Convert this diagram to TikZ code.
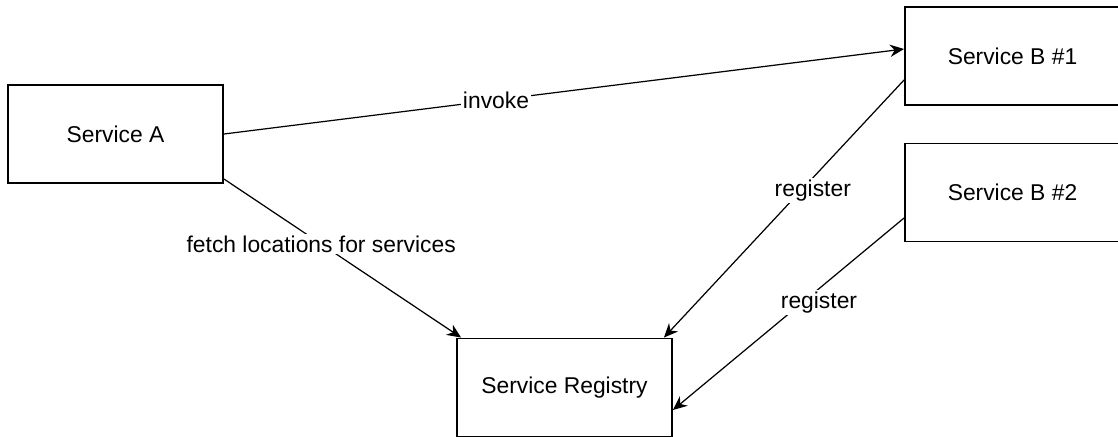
\documentclass[tikz,border=0pt]{standalone}
\usepackage{fontspec}
\setmainfont{Liberation Sans}
\usetikzlibrary{arrows.meta}
\tikzset{
  svc/.style={draw,line width=1.1pt,minimum width=4.3cm,minimum height=1.96cm,inner sep=0pt,font=\fontsize{13}{15}\selectfont},
  link/.style={line width=0.7pt,-{Stealth[length=8pt,width=7pt]}},
  lbl/.style={fill=white,inner sep=1pt,font=\fontsize{13}{15}\selectfont}
}
\begin{document}
\begin{tikzpicture}[x=0.02cm,y=-0.02cm]
  \useasboundingbox (0,0) rectangle (1118,436);
  % services
  \node[svc] (svcA) at (115.5,134) {Service A};
  \node[svc] (svcB1) at (1012.5,56) {Service B \#1};
  \node[svc] (svcB2) at (1012.5,192.5) {Service B \#2};
  \node[svc] (registry) at (564.5,387.5) {Service Registry};
  % calls
  \draw[link] (svcA.east) -- node[lbl,pos=0.4] {invoke} ([yshift=0.14cm]svcB1.west);
  \draw[link] ([yshift=0.1cm]svcA.south east) -- node[lbl,pos=0.41] {fetch locations for services} ([xshift=0.1cm]registry.north west);
  \draw[link] ([yshift=-0.48cm]svcB1.west) -- node[lbl,pos=0.43,xshift=0.24cm] {register} ([xshift=-0.18cm]registry.north east);
  \draw[link] ([yshift=-0.51cm]svcB2.west) -- node[lbl,pos=0.42,xshift=0.24cm,yshift=-0.08cm] {register} ([yshift=-0.45cm]registry.east);
\end{tikzpicture}
\end{document}
